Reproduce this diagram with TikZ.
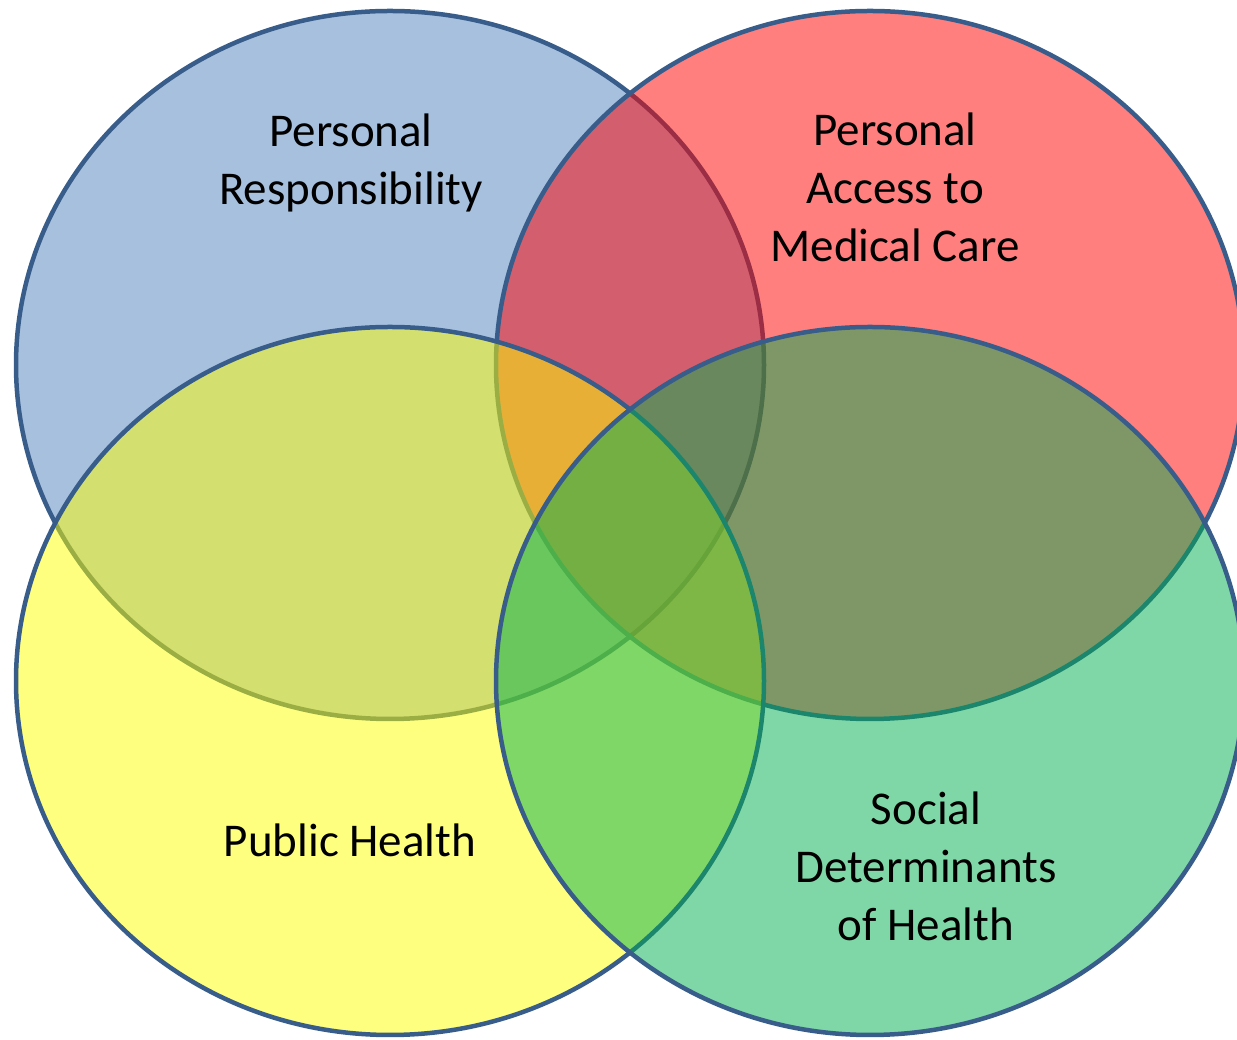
\documentclass[tikz,border=0pt]{standalone}
\usepackage{fontspec}
\setmainfont{Carlito}
\usepackage{xcolor}
\definecolor{vennblue}{RGB}{79, 129, 189}
\definecolor{vennred}{RGB}{255, 0, 0}
\definecolor{vennyellow}{RGB}{255, 255, 0}
\definecolor{venngreen}{RGB}{0, 176, 80}
\definecolor{vennline}{RGB}{56, 93, 138}

\tikzset{
    vennset/.style={draw=vennline,line width=4.5pt,fill opacity=0.5},
    vennlabel/.style={align=center,text=black,inner sep=0pt,font=\fontsize{47}{58}\selectfont}
}

\begin{document}
\begin{tikzpicture}[x=1pt,y=1pt]
        \useasboundingbox (0,0) rectangle (1237,1040);
        \clip (0,0) rectangle (1237,1040);

        % The four overlapping sets
        \foreach \cx/\cy/\col in {390/675/vennblue,870/675/vennred,390/359/vennyellow,870/359/venngreen} {
            \draw[vennset,fill=\col] (\cx,\cy) ellipse [x radius=374pt,y radius=354pt];
        }

        % Set labels
        \node[vennlabel] (responsibility) at (351,877) {Personal\\Responsibility};
        \node[vennlabel] (access) at (895,853) {Personal\\Access to\\Medical Care};
        \node[vennlabel] (publichealth) at (350,200) {Public Health};
        \node[vennlabel] (determinants) at (926,174) {Social\\Determinants\\of Health};
    \end{tikzpicture}
\end{document}
